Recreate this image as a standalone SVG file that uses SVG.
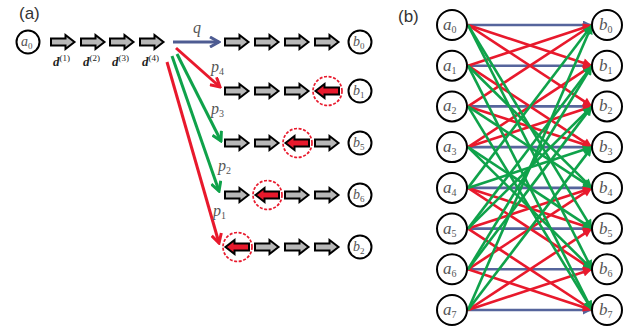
<svg xmlns="http://www.w3.org/2000/svg" width="631" height="333" viewBox="0 0 631 333">
  <style>
    .panel { font-family: "Liberation Sans", Arial, sans-serif; font-size: 17px; fill: #333; }
    .node { fill: #fff; stroke: #000; stroke-width: 2; }
    .lbl { font-family: "Liberation Serif", "Times New Roman", serif; font-style: italic; fill: #555; }
    .sub { font-style: normal; }
    .blk { fill: #b8b8b8; stroke: #000; stroke-width: 2; stroke-linejoin: miter; }
    .rev { fill: #e8192c; stroke: #000; stroke-width: 2; }
    .ring { fill: none; stroke: #e8192c; stroke-width: 1.7; stroke-dasharray: 3 1.6; }
    .dl { font-family: "Liberation Serif", "Times New Roman", serif; fill: #222; }
    .q { stroke: #4e5c92; stroke-width: 3; fill: none; }
    .r { stroke: #e8192c; stroke-width: 3; fill: none; }
    .g { stroke: #0fa24a; stroke-width: 3; fill: none; }
    .qb { stroke: #56659c; stroke-width: 2.6; fill: none; marker-end: url(#hb); }
    .rb { stroke: #e8192c; stroke-width: 2.6; fill: none; marker-end: url(#hr); }
    .gb { stroke: #0fa24a; stroke-width: 2.6; fill: none; marker-end: url(#hg); }
  </style>
  <defs>
    <!-- block arrow used in the bit chains -->
    <path id="blk" d="M0,-3.5 H14.5 V-7 L23.5,0 L14.5,7 V3.5 H0 Z"/>
    <!-- open chevron heads for panel (a) -->
    <marker id="cq" viewBox="0 0 12 12" refX="10" refY="6" markerWidth="12" markerHeight="12" markerUnits="userSpaceOnUse" orient="auto">
      <path d="M1,1 L10,6 L1,11" fill="none" stroke="#4e5c92" stroke-width="3"/>
    </marker>
    <marker id="cr" viewBox="0 0 12 12" refX="10" refY="6" markerWidth="12" markerHeight="12" markerUnits="userSpaceOnUse" orient="auto">
      <path d="M1,1 L10,6 L1,11" fill="none" stroke="#e8192c" stroke-width="3"/>
    </marker>
    <marker id="cg" viewBox="0 0 12 12" refX="10" refY="6" markerWidth="12" markerHeight="12" markerUnits="userSpaceOnUse" orient="auto">
      <path d="M1,1 L10,6 L1,11" fill="none" stroke="#0fa24a" stroke-width="3"/>
    </marker>
    <!-- filled heads for panel (b) -->
    <marker id="hb" viewBox="0 0 10 10" refX="10" refY="5" markerWidth="10" markerHeight="9" markerUnits="userSpaceOnUse" orient="auto">
      <path d="M0,0 L10,5 L0,10 Z" fill="#56659c"/>
    </marker>
    <marker id="hr" viewBox="0 0 10 10" refX="10" refY="5" markerWidth="10" markerHeight="9" markerUnits="userSpaceOnUse" orient="auto">
      <path d="M0,0 L10,5 L0,10 Z" fill="#e8192c"/>
    </marker>
    <marker id="hg" viewBox="0 0 10 10" refX="10" refY="5" markerWidth="10" markerHeight="9" markerUnits="userSpaceOnUse" orient="auto">
      <path d="M0,0 L10,5 L0,10 Z" fill="#0fa24a"/>
    </marker>
  </defs>

  <rect width="631" height="333" fill="#fff"/>

  <!-- ===== panel (a) ===== -->
  <text class="panel" x="19" y="19">(a)</text>

  <g id="a-a0">
    <circle class="node" cx="28" cy="42" r="11.5"/>
    <text class="lbl" x="21" y="46" font-size="14">a<tspan class="sub" font-size="9" dy="3">0</tspan></text>
  </g>

  <!-- input chain d(1)..d(4) -->
  <g id="a-chain">
    <use href="#blk" class="blk" x="51" y="42"/>
    <use href="#blk" class="blk" x="81" y="42"/>
    <use href="#blk" class="blk" x="110" y="42"/>
    <use href="#blk" class="blk" x="140" y="42"/>
    <text class="dl" x="53" y="66" font-size="13" font-weight="bold" font-style="italic">d<tspan font-size="9" font-weight="normal" font-style="normal" dy="-5">(1)</tspan></text>
    <text class="dl" x="83" y="66" font-size="13" font-weight="bold" font-style="italic">d<tspan font-size="9" font-weight="normal" font-style="normal" dy="-5">(2)</tspan></text>
    <text class="dl" x="112" y="66" font-size="13" font-weight="bold" font-style="italic">d<tspan font-size="9" font-weight="normal" font-style="normal" dy="-5">(3)</tspan></text>
    <text class="dl" x="142" y="66" font-size="13" font-weight="bold" font-style="italic">d<tspan font-size="9" font-weight="normal" font-style="normal" dy="-5">(4)</tspan></text>
  </g>

  <!-- branch arrows -->
  <g id="a-connectors">
    <path class="q" d="M173,42 H219" marker-end="url(#cq)"/>
    <path class="r" d="M176,48 L220,87" marker-end="url(#cr)"/>
    <path class="g" d="M177,54 L221,141" marker-end="url(#cg)"/>
    <path class="g" d="M172,56 L219,191" marker-end="url(#cg)"/>
    <path class="r" d="M167,62 L219,243" marker-end="url(#cr)"/>
    <text class="lbl" x="193" y="33" font-size="16">q</text>
    <text class="lbl" x="211" y="72" font-size="16">p<tspan class="sub" font-size="10" dy="3">4</tspan></text>
    <text class="lbl" x="211" y="114" font-size="16">p<tspan class="sub" font-size="10" dy="3">3</tspan></text>
    <text class="lbl" x="218" y="171" font-size="16">p<tspan class="sub" font-size="10" dy="3">2</tspan></text>
    <text class="lbl" x="213" y="216" font-size="16">p<tspan class="sub" font-size="10" dy="3">1</tspan></text>
  </g>

  <!-- row to b0 -->
  <g id="a-row0">
    <use href="#blk" class="blk" x="225" y="42"/>
    <use href="#blk" class="blk" x="255" y="42"/>
    <use href="#blk" class="blk" x="285" y="42"/>
    <use href="#blk" class="blk" x="315" y="42"/>
  </g>
  <g id="a-b0">
    <circle class="node" cx="360" cy="42" r="11.5"/>
    <text class="lbl" x="353" y="46" font-size="14">b<tspan class="sub" font-size="9" dy="3">0</tspan></text>
  </g>

  <!-- row to b1: flip at d(4) -->
  <g id="a-row1">
    <use href="#blk" class="blk" x="225" y="91"/>
    <use href="#blk" class="blk" x="255" y="91"/>
    <use href="#blk" class="blk" x="285" y="91"/>
    <use href="#blk" class="rev" transform="translate(339,91) scale(-1,1)"/>
    <circle class="ring" cx="327.5" cy="91" r="14.5"/>
  </g>
  <g id="a-b1">
    <circle class="node" cx="360" cy="91" r="11.5"/>
    <text class="lbl" x="353" y="95" font-size="14">b<tspan class="sub" font-size="9" dy="3">1</tspan></text>
  </g>

  <!-- row to b5: flip at d(3) -->
  <g id="a-row2">
    <use href="#blk" class="blk" x="225" y="143"/>
    <use href="#blk" class="blk" x="255" y="143"/>
    <use href="#blk" class="rev" transform="translate(309,143) scale(-1,1)"/>
    <circle class="ring" cx="297.5" cy="143" r="14.5"/>
    <use href="#blk" class="blk" x="315" y="143"/>
  </g>
  <g id="a-b5">
    <circle class="node" cx="360" cy="143" r="11.5"/>
    <text class="lbl" x="353" y="147" font-size="14">b<tspan class="sub" font-size="9" dy="3">5</tspan></text>
  </g>

  <!-- row to b6: flip at d(2) -->
  <g id="a-row3">
    <use href="#blk" class="blk" x="225" y="195"/>
    <use href="#blk" class="rev" transform="translate(279,195) scale(-1,1)"/>
    <circle class="ring" cx="267.5" cy="195" r="14.5"/>
    <use href="#blk" class="blk" x="285" y="195"/>
    <use href="#blk" class="blk" x="315" y="195"/>
  </g>
  <g id="a-b6">
    <circle class="node" cx="360" cy="195" r="11.5"/>
    <text class="lbl" x="353" y="199" font-size="14">b<tspan class="sub" font-size="9" dy="3">6</tspan></text>
  </g>

  <!-- row to b2: flip at d(1) -->
  <g id="a-row4">
    <use href="#blk" class="rev" transform="translate(249,247) scale(-1,1)"/>
    <circle class="ring" cx="237.5" cy="247" r="14.5"/>
    <use href="#blk" class="blk" x="255" y="247"/>
    <use href="#blk" class="blk" x="285" y="247"/>
    <use href="#blk" class="blk" x="315" y="247"/>
  </g>
  <g id="a-b2">
    <circle class="node" cx="360" cy="247" r="11.5"/>
    <text class="lbl" x="353" y="251" font-size="14">b<tspan class="sub" font-size="9" dy="3">2</tspan></text>
  </g>

  <!-- ===== panel (b) ===== -->
  <text class="panel" x="398" y="22">(b)</text>

  <!-- a_i -> b_(i xor s): s=0 blue, s=1,2 red, s=5,6 green -->
  <g id="b-connectors">
    <g id="b-blue">
      <path class="qb" d="M468,25 L592,25"/>
      <path class="qb" d="M468,65.7 L592,65.7"/>
      <path class="qb" d="M468,106.4 L592,106.4"/>
      <path class="qb" d="M468,147.1 L592,147.1"/>
      <path class="qb" d="M468,187.9 L592,187.9"/>
      <path class="qb" d="M468,228.6 L592,228.6"/>
      <path class="qb" d="M468,269.3 L592,269.3"/>
      <path class="qb" d="M468,310 L592,310"/>
    </g>
    <g id="b-red">
      <path class="rb" d="M468,25 L592,65.7"/>
      <path class="rb" d="M468,25 L592,106.4"/>
      <path class="rb" d="M468,65.7 L592,25"/>
      <path class="rb" d="M468,65.7 L592,147.1"/>
      <path class="rb" d="M468,106.4 L592,147.1"/>
      <path class="rb" d="M468,106.4 L592,25"/>
      <path class="rb" d="M468,147.1 L592,106.4"/>
      <path class="rb" d="M468,147.1 L592,65.7"/>
      <path class="rb" d="M468,187.9 L592,228.6"/>
      <path class="rb" d="M468,187.9 L592,269.3"/>
      <path class="rb" d="M468,228.6 L592,187.9"/>
      <path class="rb" d="M468,228.6 L592,310"/>
      <path class="rb" d="M468,269.3 L592,310"/>
      <path class="rb" d="M468,269.3 L592,187.9"/>
      <path class="rb" d="M468,310 L592,269.3"/>
      <path class="rb" d="M468,310 L592,228.6"/>
    </g>
    <g id="b-green">
      <path class="gb" d="M468,25 L592,228.6"/>
      <path class="gb" d="M468,25 L592,269.3"/>
      <path class="gb" d="M468,65.7 L592,187.9"/>
      <path class="gb" d="M468,65.7 L592,310"/>
      <path class="gb" d="M468,106.4 L592,310"/>
      <path class="gb" d="M468,106.4 L592,187.9"/>
      <path class="gb" d="M468,147.1 L592,269.3"/>
      <path class="gb" d="M468,147.1 L592,228.6"/>
      <path class="gb" d="M468,187.9 L592,25"/>
      <path class="gb" d="M468,187.9 L592,147.1"/>
      <path class="gb" d="M468,228.6 L592,65.7"/>
      <path class="gb" d="M468,228.6 L592,106.4"/>
      <path class="gb" d="M468,269.3 L592,106.4"/>
      <path class="gb" d="M468,269.3 L592,65.7"/>
      <path class="gb" d="M468,310 L592,147.1"/>
      <path class="gb" d="M468,310 L592,25"/>
    </g>
  </g>

  <g id="b-a0"><circle class="node" cx="452" cy="25" r="15"/><text class="lbl" x="443" y="30" font-size="17">a<tspan class="sub" font-size="10" dy="3">0</tspan></text></g>
  <g id="b-a1"><circle class="node" cx="452" cy="65.7" r="15"/><text class="lbl" x="443" y="70.7" font-size="17">a<tspan class="sub" font-size="10" dy="3">1</tspan></text></g>
  <g id="b-a2"><circle class="node" cx="452" cy="106.4" r="15"/><text class="lbl" x="443" y="111.4" font-size="17">a<tspan class="sub" font-size="10" dy="3">2</tspan></text></g>
  <g id="b-a3"><circle class="node" cx="452" cy="147.1" r="15"/><text class="lbl" x="443" y="152.1" font-size="17">a<tspan class="sub" font-size="10" dy="3">3</tspan></text></g>
  <g id="b-a4"><circle class="node" cx="452" cy="187.9" r="15"/><text class="lbl" x="443" y="192.9" font-size="17">a<tspan class="sub" font-size="10" dy="3">4</tspan></text></g>
  <g id="b-a5"><circle class="node" cx="452" cy="228.6" r="15"/><text class="lbl" x="443" y="233.6" font-size="17">a<tspan class="sub" font-size="10" dy="3">5</tspan></text></g>
  <g id="b-a6"><circle class="node" cx="452" cy="269.3" r="15"/><text class="lbl" x="443" y="274.3" font-size="17">a<tspan class="sub" font-size="10" dy="3">6</tspan></text></g>
  <g id="b-a7"><circle class="node" cx="452" cy="310" r="15"/><text class="lbl" x="443" y="315" font-size="17">a<tspan class="sub" font-size="10" dy="3">7</tspan></text></g>

  <g id="b-b0"><circle class="node" cx="607" cy="25" r="15"/><text class="lbl" x="599" y="30" font-size="17">b<tspan class="sub" font-size="10" dy="3">0</tspan></text></g>
  <g id="b-b1"><circle class="node" cx="607" cy="65.7" r="15"/><text class="lbl" x="599" y="70.7" font-size="17">b<tspan class="sub" font-size="10" dy="3">1</tspan></text></g>
  <g id="b-b2"><circle class="node" cx="607" cy="106.4" r="15"/><text class="lbl" x="599" y="111.4" font-size="17">b<tspan class="sub" font-size="10" dy="3">2</tspan></text></g>
  <g id="b-b3"><circle class="node" cx="607" cy="147.1" r="15"/><text class="lbl" x="599" y="152.1" font-size="17">b<tspan class="sub" font-size="10" dy="3">3</tspan></text></g>
  <g id="b-b4"><circle class="node" cx="607" cy="187.9" r="15"/><text class="lbl" x="599" y="192.9" font-size="17">b<tspan class="sub" font-size="10" dy="3">4</tspan></text></g>
  <g id="b-b5"><circle class="node" cx="607" cy="228.6" r="15"/><text class="lbl" x="599" y="233.6" font-size="17">b<tspan class="sub" font-size="10" dy="3">5</tspan></text></g>
  <g id="b-b6"><circle class="node" cx="607" cy="269.3" r="15"/><text class="lbl" x="599" y="274.3" font-size="17">b<tspan class="sub" font-size="10" dy="3">6</tspan></text></g>
  <g id="b-b7"><circle class="node" cx="607" cy="310" r="15"/><text class="lbl" x="599" y="315" font-size="17">b<tspan class="sub" font-size="10" dy="3">7</tspan></text></g>
</svg>
